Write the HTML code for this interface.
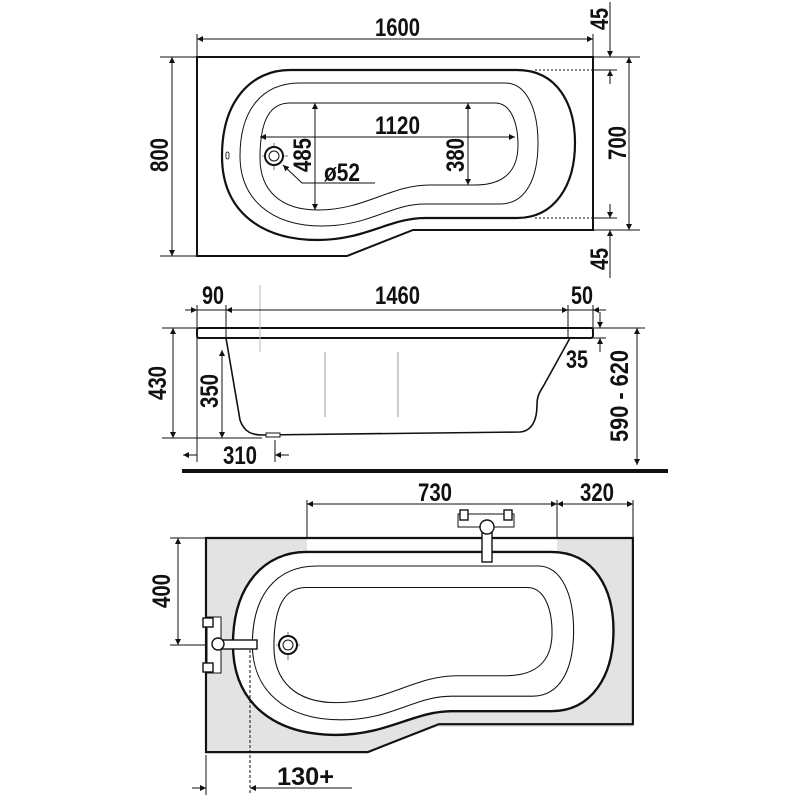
<!DOCTYPE html>
<html><head><meta charset="utf-8"><style>
html,body{margin:0;padding:0;background:#fff}
svg{display:block}
text{font-family:"Liberation Sans Narrow","Liberation Sans",sans-serif;font-weight:bold;font-size:25px;fill:#111}
</style></head><body>
<svg width="800" height="800" viewBox="0 0 800 800" xmlns="http://www.w3.org/2000/svg">
<defs>
<marker id="a" viewBox="0 0 10 10" refX="10" refY="5" markerWidth="9" markerHeight="6" orient="auto-start-reverse" markerUnits="userSpaceOnUse"><path d="M0,0 L10,5 L0,10 z" fill="#111"/></marker>
<g id="tub">
<path d="M197,57 L593,57 L593,230 L413,230 L347,256 L197,256 Z" fill="none" stroke="#111" stroke-width="2"/>
<path d="M290,70 L517,70 C558,70 575,105 575,143 C575,185 555,218 517,218 L425,218 C390,218 365,240 318,240 C262,240 222,212 222,156 C222,100 252,70 290,70 Z" fill="#fff" stroke="#111" stroke-width="2.2"/>
<path d="M300,83 L505,83 C527,83 538,110 538,143 C538,180 525,204 500,204 L425,204 C390,204 370,226 322,226 C270,226 240,198 240,156 C240,110 262,83 300,83 Z" fill="none" stroke="#111" stroke-width="1"/>
<path d="M290,103 L495,103 C512,103 518,125 518,145 C518,170 505,185 475,185 L430,185 C390,185 365,210 318,210 C280,210 260,190 260,158 C260,120 270,103 290,103 Z" fill="none" stroke="#111" stroke-width="1"/>
</g>
</defs>
<g stroke="#111" fill="none" stroke-width="1">
<use href="#tub"/>
<rect x="226" y="152" width="3" height="7" rx="1.5" fill="#fff" stroke-width="0.8"/>
<line x1="262" y1="156" x2="288" y2="156" stroke-width="0.6"/><line x1="274" y1="143" x2="274" y2="170" stroke-width="0.6"/>
<circle cx="274" cy="156" r="9" fill="#fff" stroke-width="2"/><circle cx="274" cy="156" r="5"/>
<polyline points="283,165 302,183 375,183" marker-start="url(#a)"/>
<line x1="197" y1="39" x2="593" y2="39" marker-start="url(#a)" marker-end="url(#a)"/>
<line x1="197" y1="34" x2="197" y2="57"/><line x1="593" y1="34" x2="593" y2="57"/>
<line x1="610" y1="2" x2="610" y2="57" marker-end="url(#a)"/><line x1="610" y1="84" x2="610" y2="70" marker-end="url(#a)"/>
<line x1="593" y1="57" x2="640" y2="57"/><line x1="535" y1="70" x2="593" y2="70" stroke-dasharray="2 2"/><line x1="593" y1="70" x2="617" y2="70"/>
<line x1="535" y1="218" x2="593" y2="218" stroke-dasharray="2 2"/><line x1="593" y1="218" x2="617" y2="218"/><line x1="593" y1="230" x2="640" y2="230"/>
<line x1="610" y1="204" x2="610" y2="218" marker-end="url(#a)"/><line x1="610" y1="278" x2="610" y2="230" marker-end="url(#a)"/>
<line x1="629" y1="57" x2="629" y2="230" marker-start="url(#a)" marker-end="url(#a)"/>
<line x1="172" y1="57" x2="172" y2="256" marker-start="url(#a)" marker-end="url(#a)"/>
<line x1="160" y1="57" x2="197" y2="57"/><line x1="160" y1="256" x2="197" y2="256"/>
<line x1="260" y1="137" x2="515" y2="137" marker-start="url(#a)" marker-end="url(#a)"/>
<line x1="315" y1="103" x2="315" y2="210" marker-start="url(#a)" marker-end="url(#a)"/>
<line x1="468" y1="103" x2="468" y2="185" marker-start="url(#a)" marker-end="url(#a)"/>
<rect x="197" y="328" width="396" height="10" rx="2" fill="#fff" stroke-width="2"/>
<path d="M226,338 L240,420 C244,432 252,435 262,435 L520,432 C532,431 537,420 537,405 C537,395 540,392 544,385 L570,338" stroke-width="1.6"/>
<line x1="260" y1="285" x2="260" y2="352" stroke="#bbb"/>
<line x1="325" y1="352" x2="325" y2="417" stroke="#999"/><line x1="398" y1="352" x2="398" y2="417" stroke="#999"/>
<rect x="266" y="433" width="14" height="4" fill="#fff"/>
<line x1="197" y1="310" x2="593" y2="310"/>
<line x1="185" y1="310" x2="197" y2="310" marker-end="url(#a)"/><line x1="240" y1="310" x2="226" y2="310" marker-end="url(#a)"/>
<line x1="554" y1="310" x2="568" y2="310" marker-end="url(#a)"/><line x1="606" y1="310" x2="593" y2="310" marker-end="url(#a)"/>
<line x1="197" y1="305" x2="197" y2="328"/><line x1="226" y1="305" x2="226" y2="338"/><line x1="568" y1="305" x2="568" y2="338"/><line x1="593" y1="305" x2="593" y2="328"/>
<line x1="600" y1="312" x2="600" y2="328" marker-end="url(#a)"/><line x1="600" y1="352" x2="600" y2="338" marker-end="url(#a)"/>
<line x1="593" y1="328" x2="645" y2="328"/><line x1="593" y1="338" x2="606" y2="338"/>
<line x1="637" y1="328" x2="637" y2="465" marker-start="url(#a)" marker-end="url(#a)"/>
<line x1="173" y1="328" x2="173" y2="438" marker-start="url(#a)" marker-end="url(#a)"/>
<line x1="162" y1="328" x2="197" y2="328"/><line x1="162" y1="438" x2="262" y2="438"/>
<line x1="222" y1="350" x2="222" y2="438" marker-start="url(#a)" marker-end="url(#a)"/>
<line x1="197" y1="338" x2="197" y2="462"/><line x1="275" y1="440" x2="275" y2="462"/>
<line x1="183" y1="455" x2="197" y2="455" marker-start="url(#a)"/><line x1="289" y1="455" x2="275" y2="455" marker-end="url(#a)"/>
<line x1="182" y1="471" x2="668" y2="471" stroke-width="4"/>
<path d="M206,538 L633,538 L633,727 L437,727 L367,752 L206,752 Z" fill="#e3e3e3" stroke="none"/>
<rect x="307" y="539" width="250" height="14" fill="#fff" stroke="none"/>
<g transform="translate(206,538) scale(1.078,1.076) translate(-197,-57)"><use href="#tub"/></g>
<line x1="250" y1="645" x2="250" y2="795" stroke-dasharray="3 2"/>
<line x1="276" y1="645" x2="300" y2="645" stroke-width="0.6"/><line x1="288" y1="632" x2="288" y2="660" stroke-width="0.6"/>
<circle cx="288" cy="645" r="9" fill="#fff" stroke-width="2"/><circle cx="288" cy="645" r="5"/>
<rect x="458" y="514" width="56" height="13" fill="#fff"/>
<rect x="460" y="510" width="8" height="10" fill="#fff" stroke-width="1.4"/><rect x="504" y="510" width="8" height="10" fill="#fff" stroke-width="1.4"/>
<rect x="482" y="528" width="10" height="34" fill="#fff" stroke-width="1.4"/>
<circle cx="487" cy="527" r="7" fill="#fff" stroke-width="1.4"/>
<rect x="207" y="617" width="14" height="56" fill="#fff"/>
<rect x="203" y="618" width="10" height="9" fill="#fff" stroke-width="1.4"/><rect x="203" y="663" width="10" height="9" fill="#fff" stroke-width="1.4"/>
<rect x="220" y="640" width="37" height="9" fill="#fff" stroke-width="1.4"/>
<circle cx="218" cy="644" r="6" fill="#fff" stroke-width="1.4"/>
<line x1="307" y1="504" x2="557" y2="504" marker-start="url(#a)" marker-end="url(#a)"/>
<line x1="557" y1="504" x2="633" y2="504" marker-start="url(#a)" marker-end="url(#a)"/>
<line x1="307" y1="500" x2="307" y2="538"/><line x1="557" y1="500" x2="557" y2="538"/><line x1="633" y1="500" x2="633" y2="538"/>
<line x1="178" y1="538" x2="178" y2="645" marker-start="url(#a)" marker-end="url(#a)"/>
<line x1="170" y1="538" x2="206" y2="538"/><line x1="170" y1="645" x2="206" y2="645"/>
<line x1="206" y1="755" x2="206" y2="795"/>
<line x1="192" y1="788" x2="206" y2="788" marker-end="url(#a)"/><line x1="352" y1="788" x2="250" y2="788" marker-end="url(#a)"/>
</g>
<g>
<text x="375" y="36" textLength="45" lengthAdjust="spacingAndGlyphs">1600</text>
<text transform="translate(608,30) rotate(-90)" textLength="22" lengthAdjust="spacingAndGlyphs">45</text>
<text transform="translate(608,270) rotate(-90)" textLength="22" lengthAdjust="spacingAndGlyphs">45</text>
<text transform="translate(626,160) rotate(-90)" textLength="34" lengthAdjust="spacingAndGlyphs">700</text>
<text transform="translate(168,172) rotate(-90)" textLength="34" lengthAdjust="spacingAndGlyphs">800</text>
<text x="375" y="134" textLength="45" lengthAdjust="spacingAndGlyphs">1120</text>
<text transform="translate(311,172) rotate(-90)" textLength="34" lengthAdjust="spacingAndGlyphs">485</text>
<text transform="translate(464,172) rotate(-90)" textLength="34" lengthAdjust="spacingAndGlyphs">380</text>
<text x="324" y="181" textLength="36" lengthAdjust="spacingAndGlyphs">ø52</text>
<text x="202" y="304" textLength="22" lengthAdjust="spacingAndGlyphs">90</text>
<text x="375" y="304" textLength="45" lengthAdjust="spacingAndGlyphs">1460</text>
<text x="571" y="304" textLength="22" lengthAdjust="spacingAndGlyphs">50</text>
<text x="566" y="368" textLength="22" lengthAdjust="spacingAndGlyphs">35</text>
<text transform="translate(628,442) rotate(-90)" textLength="92" lengthAdjust="spacingAndGlyphs">590 - 620</text>
<text transform="translate(166,400) rotate(-90)" textLength="34" lengthAdjust="spacingAndGlyphs">430</text>
<text transform="translate(218,408) rotate(-90)" textLength="34" lengthAdjust="spacingAndGlyphs">350</text>
<text x="223" y="464" textLength="34" lengthAdjust="spacingAndGlyphs">310</text>
<text x="418" y="501" textLength="34" lengthAdjust="spacingAndGlyphs">730</text>
<text x="580" y="501" textLength="34" lengthAdjust="spacingAndGlyphs">320</text>
<text transform="translate(170,608) rotate(-90)" textLength="34" lengthAdjust="spacingAndGlyphs">400</text>
<text x="277" y="785" textLength="57" lengthAdjust="spacingAndGlyphs">130+</text>
</g>
</svg>
</body></html>
